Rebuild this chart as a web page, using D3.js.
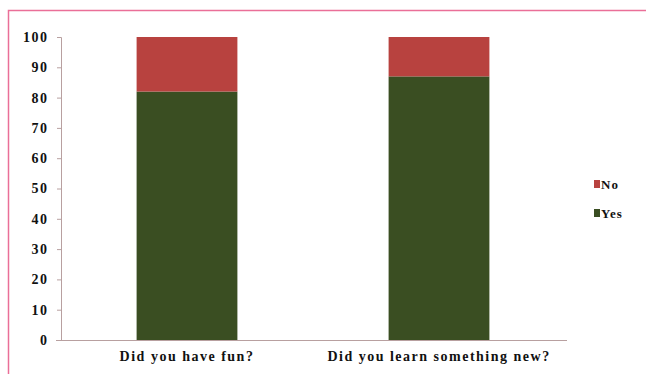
<!doctype html>
<html>
<head>
<script src="https://cdn.jsdelivr.net/npm/d3@7/dist/d3.min.js"></script>
<style>
  body { margin: 0; background: #fff; }
  svg { display: block; }
  .tick text { font-family: "Liberation Serif", serif; font-weight: bold; font-size: 14px; fill: #111; letter-spacing: 1.5px; }
</style>
</head>
<body>
<svg width="646" height="374"></svg>
<script>
var questions = ["Did you have fun?", "Did you learn something new?"];
var answers = ["Yes", "No"];
var yesValues = [82, 87];
var noValues = [18, 13];
var yTicks = [0, 10, 20, 30, 40, 50, 60, 70, 80, 90, 100];
var colors = {Yes: "#3a4e22", No: "#b8423f"};

var rows = questions.map((q, i) => ({question: q, Yes: yesValues[i], No: noValues[i]}));

var svg = d3.select("svg");

// pink frame (top and left edges visible)
svg.append("path")
   .attr("d", "M8.5,374V10.5H646")
   .attr("fill", "none")
   .attr("stroke", "#ea6f98")
   .attr("stroke-width", 1.5);

var x = d3.scaleBand().domain(questions).range([61, 565]).paddingInner(0.6).paddingOuter(0.3);
var y = d3.scaleLinear().domain([0, 100]).range([340, 37]);

var stack = d3.stack().keys(answers)(rows);

svg.append("g").selectAll("g")
   .data(stack)
   .enter().append("g")
   .attr("fill", d => colors[d.key])
   .selectAll("rect")
   .data(d => d)
   .enter().append("rect")
   .attr("x", d => x(d.data.question))
   .attr("width", x.bandwidth())
   .attr("y", d => y(d[1]))
   .attr("height", d => y(d[0]) - y(d[1]));

var yAxis = svg.append("g")
   .attr("transform", "translate(61,0)")
   .call(d3.axisLeft(y).tickValues(yTicks).tickSize(4).tickPadding(10));
yAxis.select(".domain").attr("stroke", "#b8a0a0");
yAxis.selectAll(".tick line").attr("stroke", "#b8a0a0");
yAxis.selectAll(".tick text").attr("dx", "1.5px");

var xAxis = svg.append("g")
   .attr("transform", "translate(0,340)")
   .call(d3.axisBottom(x).tickSize(0).tickPadding(11));
xAxis.select(".domain").attr("stroke", "#b8a0a0").attr("d", "M56,0.5H567");

// legend
var legend = svg.append("g").selectAll("g")
   .data(["No", "Yes"])
   .enter().append("g")
   .attr("transform", (d, i) => "translate(594," + (184 + i * 29) + ")");
legend.append("rect")
   .attr("x", 0).attr("y", -4)
   .attr("width", 6).attr("height", 8)
   .attr("fill", d => colors[d]);
legend.append("text")
   .attr("x", 7).attr("y", 5)
   .attr("font-family", "Liberation Serif, serif")
   .attr("font-weight", "bold")
   .attr("font-size", "13px")
   .attr("letter-spacing", "1px")
   .attr("fill", "#111")
   .text(d => d);
</script>
</body>
</html>
